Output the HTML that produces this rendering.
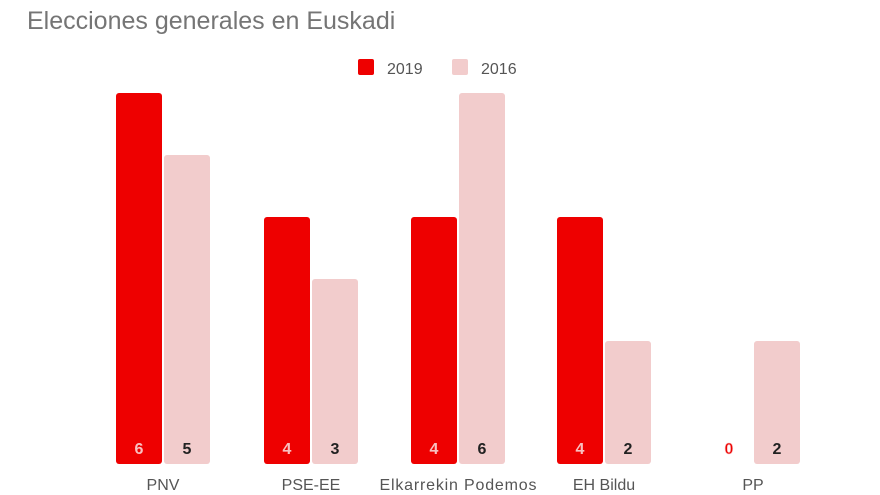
<!DOCTYPE html>
<html><head><meta charset="utf-8"><style>
body{margin:0;background:#fff;width:880px;height:495px;overflow:hidden;font-family:"Liberation Sans",sans-serif}
svg{display:block}
</style></head><body>
<svg width="880" height="495" xmlns="http://www.w3.org/2000/svg" font-family="Liberation Sans, sans-serif">
<text x="27" y="29" font-size="25" fill="#757575">Elecciones generales en Euskadi</text>
<rect x="358" y="59" width="16" height="16" rx="2" fill="#ee0000"/>
<text x="387" y="74" font-size="16" fill="#555">2019</text>
<rect x="452" y="59" width="16" height="16" rx="2" fill="#f2cccc"/>
<text x="481" y="74" font-size="16" fill="#555">2016</text>
<g fill="#ee0000">
<rect x="116" y="93" width="46" height="371" rx="3"/>
<rect x="264" y="217" width="46" height="247" rx="3"/>
<rect x="411" y="217" width="46" height="247" rx="3"/>
<rect x="557" y="217" width="46" height="247" rx="3"/>
</g>
<g fill="#f2cccc">
<rect x="164" y="155" width="46" height="309" rx="3"/>
<rect x="312" y="279" width="46" height="185" rx="3"/>
<rect x="459" y="93" width="46" height="371" rx="3"/>
<rect x="605" y="341" width="46" height="123" rx="3"/>
<rect x="754" y="341" width="46" height="123" rx="3"/>
</g>
<g font-size="16" text-anchor="middle" font-weight="bold">
<g fill="#f8c0c0">
<text x="139" y="454">6</text><text x="287" y="454">4</text><text x="434" y="454">4</text><text x="580" y="454">4</text>
</g>
<text x="729" y="454" fill="#ee0000" stroke="#f8c0c0" stroke-width="0.6">0</text>
<g fill="#222">
<text x="187" y="454">5</text><text x="335" y="454">3</text><text x="482" y="454">6</text><text x="628" y="454">2</text><text x="777" y="454">2</text>
</g>
</g>
<g font-size="16" text-anchor="middle" fill="#555">
<text x="163" y="490">PNV</text>
<text x="311" y="490">PSE-EE</text>
<text x="458" y="490" textLength="157">Elkarrekin Podemos</text>
<text x="604" y="490">EH Bildu</text>
<text x="753" y="490">PP</text>
</g>
</svg>
</body></html>
